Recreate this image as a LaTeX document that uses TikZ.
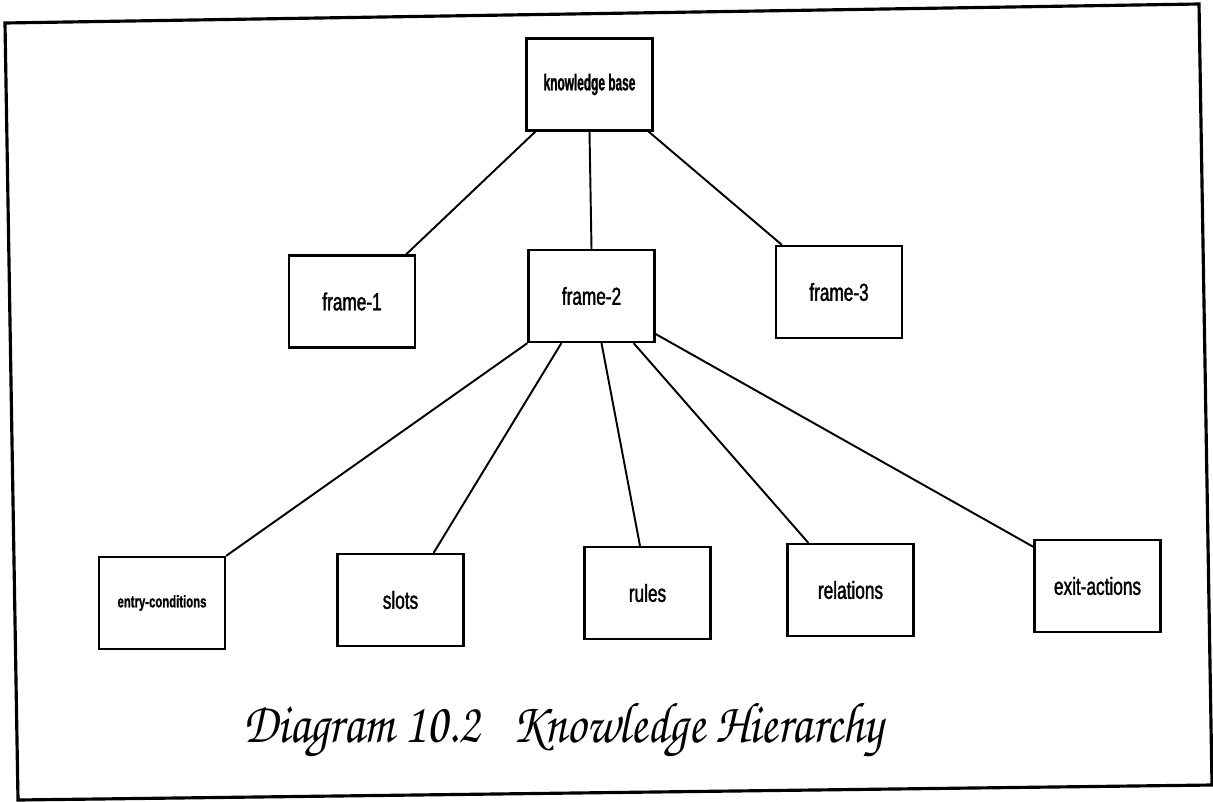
\documentclass[tikz,border=0pt]{standalone}
\usepackage{fontspec}
\usepackage{graphicx}
\usetikzlibrary{calc}
% condensed sans faces for the box labels
\newfontfamily\lblfont[FakeStretch=0.7,FakeBold=1.5]{Liberation Sans}
\newfontfamily\tightfont[FakeStretch=0.52,FakeBold=1]{Liberation Sans}
\newfontfamily\midfont[FakeStretch=0.68,FakeBold=1]{Liberation Sans}
% cursive face for the caption
\newfontfamily\capfont{TeX Gyre Chorus}

\begin{document}
\begin{tikzpicture}[x=0.02cm,y=-0.02cm,
  box/.style={draw, line width=1.3pt, minimum width=2.52cm, minimum height=1.84cm,
              inner sep=0pt, font=\lblfont\fontsize{14}{14}\selectfont},
  link/.style={line width=1.1pt}]
\useasboundingbox (0,0) rectangle (1213,801);

% page frame
\draw[line width=1.8pt, line join=miter] (5,23) -- (1199,4) -- (1212,785) -- (18,800) -- cycle;

% hierarchy boxes
\node[box, font=\tightfont\bfseries\fontsize{13}{13}\selectfont] (kb) at (589.5,84.5) {knowledge base};
\node[box] (f1) at (352,301.5) {frame-1};
\node[box] (f2) at (591.5,296) {frame-2};
\node[box] (f3) at (839,292) {frame-3};
\node[box, font=\midfont\bfseries\fontsize{9.5}{9.5}\selectfont] (ec) at (162,603) {entry-conditions};
\node[box] (slots) at (400.5,600) {slots};
\node[box] (rules) at (647.5,593) {rules};
\node[box] (rel) at (850.5,590) {relations};
\node[box] (exit) at (1097.5,586) {exit-actions};

% connectors
\draw[link] ($(kb.south west)+(10,0)$) -- ($(f1.north east)+(-10,0)$);
\draw[link] (kb.south) -- (f2.north);
\draw[link] ($(kb.south east)+(-5,0)$) -- ($(f3.north west)+(7,0)$);
\draw[link] (f2.south west) -- (ec.north east);
\draw[link] ($(f2.south west)+(34,0)$) -- ($(slots.north east)+(-31,0)$);
\draw[link] ($(f2.south)+(10,0)$) -- ($(rules.north)+(-7.5,0)$);
\draw[link] ($(f2.south east)+(-22,0)$) -- ($(rel.north west)+(22,0)$);
\draw[link] ($(f2.east)+(0,38)$) -- ($(exit.north west)+(0,8)$);

% caption
\node[anchor=base west, inner sep=0pt] (cap) at (243,742)
  {\resizebox{12.8cm}{0.78cm}{\capfont Diagram 10.2\ \ \ Knowledge Hierarchy}};
\end{tikzpicture}
\end{document}
